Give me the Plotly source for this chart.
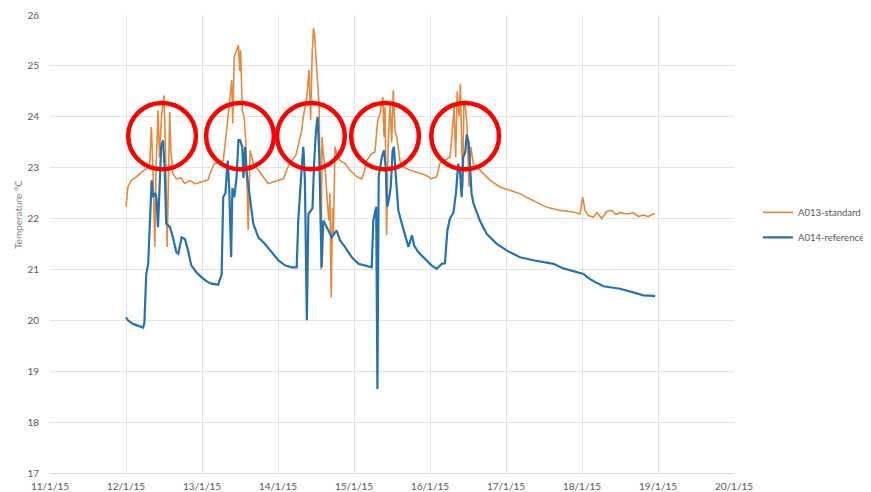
import pandas as pd
import plotly.graph_objects as go

# Hours since 12/1/15 00:00 and temperatures (°C)
a013_hours = [0.0, 0.6, 1.7, 3.3, 4.8, 6.4, 7.5, 8.0, 8.5, 9.1, 9.5, 10.1, 10.6, 11.2, 12.0, 12.5, 13.0, 13.4,
              13.8, 14.2, 14.8, 15.9, 17.4, 18.5, 20.2, 21.8, 23.8, 25.9, 26.9, 28.0, 29.1, 30.7, 31.8, 32.8,
              33.4, 33.7, 34.2, 35.0, 35.5, 35.9, 36.2, 36.7, 37.3, 37.8, 38.2, 38.6, 39.2, 40.2, 41.8, 43.4,
              44.9, 46.4, 48.1, 49.7, 50.7, 51.8, 53.7, 55.5, 56.0, 57.1, 57.8, 58.3, 58.8, 59.2, 59.5, 59.9,
              60.4, 61.0, 61.6, 61.9, 62.3, 63.0, 63.6, 64.1, 64.4, 64.8, 65.2, 65.5, 66.0, 66.5, 67.6, 69.2,
              70.7, 72.9, 74.4, 75.2, 76.0, 77.6, 78.6, 79.5, 80.2, 81.1, 81.5, 81.8, 82.3, 82.8, 83.4, 83.9,
              84.4, 85.0, 85.5, 86.5, 87.6, 89.7, 91.8, 93.4, 94.7, 96.5, 98.1, 99.1, 100.7, 102.3, 102.9,
              103.6, 104.1, 104.6, 105.2, 105.6, 106.3, 106.7, 107.2, 107.7, 108.3, 108.9, 109.7, 111.8,
              115.0, 118.1, 121.3, 124.4, 126.5, 129.7, 132.9, 137.1, 141.3, 143.4, 144.2, 145.0, 146.0,
              147.6, 148.8, 150.2, 151.8, 153.4, 154.7, 156.0, 157.9, 160.2, 161.8, 163.3, 164.9, 166.5, 167.1]
a013_temp = [22.23, 22.62, 22.75, 22.82, 22.91, 22.98, 23.08, 23.80, 23.0, 21.44, 23.0, 24.13, 23.2, 24.0, 24.42,
             23.3, 21.44, 23.0, 24.10, 23.3, 22.88, 22.78, 22.80, 22.69, 22.75, 22.68, 22.72, 22.76, 22.95, 23.09,
             23.08, 23.14, 23.74, 24.29, 24.72, 23.87, 25.18, 25.31, 25.41, 24.9, 25.31, 24.13, 24.0, 23.54,
             22.8, 21.77, 23.34, 23.08, 22.95, 22.82, 22.69, 22.72, 22.75, 22.78, 22.95, 23.10, 23.25, 23.74,
             24.0, 24.39, 24.92, 23.93, 25.25, 25.74, 25.64, 25.25, 24.59, 24.19, 21.0, 23.6, 23.28, 22.9,
             22.3, 21.96, 22.5, 20.45, 22.2, 21.7, 23.41, 23.28, 23.14, 23.08, 22.95, 22.82, 22.78, 22.9,
             23.14, 23.28, 23.31, 23.93, 24.06, 24.39, 23.6, 24.2, 21.67, 23.5, 24.26, 23.5, 24.52, 23.7,
             23.6, 23.14, 23.01, 22.95, 22.91, 22.88, 22.85, 22.78, 22.82, 23.08, 23.14, 23.21, 23.6, 24.2,
             23.2, 24.5, 24.0, 24.65, 22.62, 24.3, 24.19, 23.8, 22.62, 23.41, 23.08, 22.95, 22.75, 22.62,
             22.55, 22.49, 22.42, 22.32, 22.22, 22.16, 22.13, 22.09, 22.42, 22.15, 22.06, 22.03, 22.12,
             22.0, 22.14, 22.16, 22.08, 22.12, 22.09, 22.11, 22.04, 22.07, 22.04, 22.09, 22.1]

a014_hours = [0.0, 0.6, 2.2, 3.8, 5.4, 5.8, 6.4, 7.0, 7.5, 8.1, 8.5, 9.2, 9.6, 10.1, 10.6, 11.1, 11.7, 12.2,
              12.7, 13.9, 14.8, 15.9, 16.5, 17.6, 18.6, 19.6, 20.6, 22.3, 23.8, 25.4, 26.9, 29.1, 30.2, 30.7,
              31.4, 32.1, 32.6, 33.2, 33.6, 34.2, 34.9, 35.5, 36.0, 36.7, 37.1, 37.6, 38.1, 39.2, 40.2, 41.8,
              43.9, 46.0, 48.1, 50.2, 52.3, 53.9, 54.4, 55.5, 56.0, 56.5, 57.1, 57.6, 58.4, 58.9, 59.4, 60.0,
              60.5, 61.0, 61.8, 62.3, 63.4, 65.0, 66.5, 67.6, 69.2, 71.3, 73.4, 75.5, 77.6, 78.1, 79.0, 79.4,
              79.8, 80.8, 81.5, 82.0, 82.5, 83.1, 83.6, 84.2, 84.6, 85.3, 86.0, 87.1, 88.1, 89.2, 90.3, 91.0,
              92.3, 94.4, 96.5, 98.1, 99.7, 100.7, 101.5, 102.3, 103.4, 104.2, 104.9, 105.5, 106.0, 106.5,
              107.1, 107.6, 108.2, 108.6, 109.1, 109.7, 110.8, 111.8, 113.9, 115.0, 117.1, 120.3, 124.4,
              128.6, 132.9, 135.0, 138.1, 142.4, 144.5, 145.6, 147.6, 150.8, 152.8, 156.0, 160.2, 163.4,
              166.5, 167.1]
a014_temp = [20.06, 20.0, 19.93, 19.90, 19.86, 19.95, 20.91, 21.11, 21.77, 22.75, 22.42, 22.5, 22.42, 21.83,
             22.6, 23.41, 23.54, 23.0, 21.9, 21.83, 21.63, 21.34, 21.31, 21.63, 21.6, 21.37, 21.08, 20.94,
             20.85, 20.77, 20.72, 20.70, 20.9, 22.42, 22.5, 23.14, 22.6, 21.24, 22.6, 22.42, 22.8, 23.54,
             23.54, 23.41, 22.8, 23.41, 22.9, 22.42, 21.9, 21.63, 21.50, 21.34, 21.18, 21.08, 21.04, 21.04,
             21.96, 23.01, 23.41, 22.75, 20.0, 22.09, 22.15, 22.2, 23.08, 23.74, 24.0, 23.3, 21.04, 21.96,
             21.83, 21.63, 21.77, 21.57, 21.44, 21.24, 21.11, 21.08, 21.04, 21.96, 22.23, 18.65, 22.82,
             23.21, 23.34, 23.0, 22.23, 22.4, 22.62, 23.34, 23.41, 22.75, 22.16, 21.9, 21.70, 21.44, 21.67,
             21.47, 21.34, 21.21, 21.08, 21.01, 21.11, 21.12, 21.77, 22.0, 22.12, 22.5, 23.08, 22.9, 22.42,
             23.21, 23.3, 23.65, 23.5, 23.1, 22.5, 22.3, 22.1, 21.95, 21.7, 21.63, 21.5, 21.37, 21.24,
             21.18, 21.14, 21.11, 21.02, 20.94, 20.91, 20.85, 20.77, 20.67, 20.65, 20.62, 20.55, 20.49,
             20.48, 20.47]

# Highlighted peak periods (hours since 12/1/15 00:00)
highlight_centers = [11.4, 36.0, 58.4, 81.8, 107.1]
highlight_half_width = 10.7
highlight_low, highlight_high = 22.97, 24.27

base = pd.Timestamp("2015-01-12")
t13 = base + pd.to_timedelta(a013_hours, unit="h")
t14 = base + pd.to_timedelta(a014_hours, unit="h")

fig = go.Figure()
fig.add_trace(go.Scatter(x=t13, y=a013_temp, mode="lines", name="A013-standard",
                         line=dict(color="#E8883C", width=1.6), legendgroup="a"))
fig.add_trace(go.Scatter(x=t14, y=a014_temp, mode="lines", name="A014-reference",
                         line=dict(color="#2572B0", width=2.2), legendgroup="b"))

for c in highlight_centers:
    fig.add_shape(type="circle", xref="x", yref="y",
                  x0=base + pd.Timedelta(hours=c - highlight_half_width),
                  x1=base + pd.Timedelta(hours=c + highlight_half_width),
                  y0=highlight_low, y1=highlight_high,
                  line=dict(color="#FF0000", width=4.5))

fig.add_annotation(text="Temperature °C", textangle=-90, xref="paper", yref="paper",
                   x=-0.047, y=0.565, showarrow=False, xanchor="center", yanchor="middle",
                   font=dict(size=10, color="#7F7F7F"))

# The page body adds an 8px offset, so the figure is 8px smaller than the window
fig.update_layout(
    width=863, height=484,
    margin=dict(l=42, r=137, t=7, b=19),
    paper_bgcolor="white", plot_bgcolor="white",
    font=dict(family="Lato, Liberation Sans, sans-serif", size=10, color="#595959"),
    showlegend=True,
    legend=dict(xref="container", yref="container", x=0.869, y=0.552,
                xanchor="left", yanchor="middle", tracegroupgap=6,
                font=dict(size=9.5, color="#595959"), itemwidth=30, bgcolor="rgba(0,0,0,0)"),
    xaxis=dict(range=[pd.Timestamp("2015-01-11"), pd.Timestamp("2015-01-20")],
               dtick=86400000, tick0=pd.Timestamp("2015-01-11"), tickformat="%-d/%-m/%y",
               showgrid=True, gridcolor="#E4E4E4", gridwidth=1, zeroline=False, automargin=False,
               showline=True, linecolor="#D9D9D9", ticks="", ticklabelstandoff=4,
               tickfont=dict(size=10, color="#595959")),
    yaxis=dict(range=[17, 26], dtick=1, showgrid=True, gridcolor="#E4E4E4", gridwidth=1,
               zeroline=False, showline=False, ticks="", ticklabelstandoff=10, automargin=False,
               tickfont=dict(size=10, color="#595959")),
)

fig.write_html("out.html")
